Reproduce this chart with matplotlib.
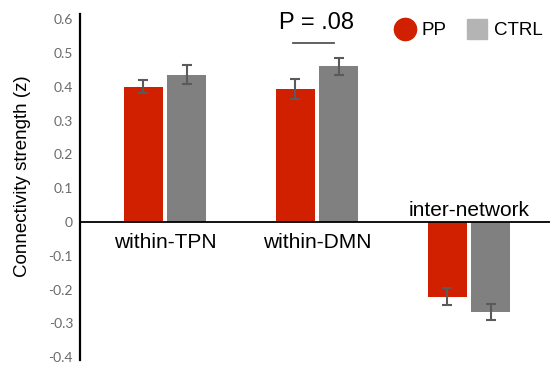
import matplotlib
matplotlib.use("Agg")
import matplotlib.pyplot as plt
from matplotlib.lines import Line2D
import numpy as np

categories = ["within-TPN", "within-DMN", "inter-network"]
pp_values = [0.400, 0.393, -0.221]
pp_err = [0.019, 0.030, 0.025]
ctrl_values = [0.436, 0.460, -0.266]
ctrl_err = [0.027, 0.026, 0.024]
yticks = [-0.4, -0.3, -0.2, -0.1, 0, 0.1, 0.2, 0.3, 0.4, 0.5, 0.6]
ytick_labels = ["-0.4", "-0.3", "-0.2", "-0.1", "0", "0.1", "0.2", "0.3", "0.4", "0.5", "0.6"]

red = "#d02000"
gray = "#808080"
light_gray = "#b4b4b4"
err_col = "#5a5a5a"

fig = plt.figure(figsize=(5.5, 3.65), dpi=100)
ax = fig.add_axes([80/550, 5/365, 470/550, 346/365])

x = np.arange(len(categories))
w = 0.257
off = 0.142
ax.bar(x - off, pp_values, w, color=red, zorder=2)
ax.bar(x + off, ctrl_values, w, color=gray, zorder=2)
ax.errorbar(x - off, pp_values, yerr=pp_err, fmt="none", ecolor=err_col,
            elinewidth=1.5, capsize=3.5, capthick=1.5, zorder=3)
ax.errorbar(x + off, ctrl_values, yerr=ctrl_err, fmt="none", ecolor=err_col,
            elinewidth=1.5, capsize=3.5, capthick=1.5, zorder=3)

ax.set_xlim(-0.559, 2.533)
ax.set_ylim(-0.408, 0.615)
ax.axhline(0, color="black", lw=1.3, zorder=4)

for s in ["top", "right", "bottom"]:
    ax.spines[s].set_visible(False)
ax.spines["left"].set_linewidth(1.6)
ax.spines["left"].set_color("black")
ax.set_xticks([])
ax.set_yticks(yticks)
ax.set_yticklabels(ytick_labels, family="Lato", fontsize=10, color="#6a6a6a")
ax.tick_params(axis="y", length=0, pad=5)

ax.set_ylabel("Connectivity strength (z)", family="Liberation Sans", fontsize=13.5)
ax.yaxis.set_label_coords(-0.105, 0.53)

for i, c in enumerate(categories):
    if ctrl_values[i] >= 0:
        ax.text(i, -0.06, c, ha="center", va="center", fontsize=15,
                family="Liberation Sans")
    else:
        ax.text(i, 0.035, c, ha="center", va="center", fontsize=15,
                family="Liberation Sans")

# significance annotation
ax.text(1.0, 0.587, "P = .08", ha="center", va="center", fontsize=17,
        family="Liberation Sans")
ax.plot([1 - 0.16, 1 + 0.11], [0.529, 0.529], color="#555555", lw=1.3)

handles = [Line2D([], [], marker="o", ls="none", markersize=16, color=red,
                  markeredgecolor=red),
           Line2D([], [], marker="s", ls="none", markersize=14, color=light_gray,
                  markeredgecolor=light_gray)]
leg = ax.legend(handles, ["PP", "CTRL"], ncol=2, frameon=False,
                loc="upper right", bbox_to_anchor=(1.02, 1.025),
                prop={"family": "Liberation Sans", "size": 13.5},
                handletextpad=0.3, columnspacing=1.0, handlelength=1.2)

fig.savefig("out.png", dpi=100)
